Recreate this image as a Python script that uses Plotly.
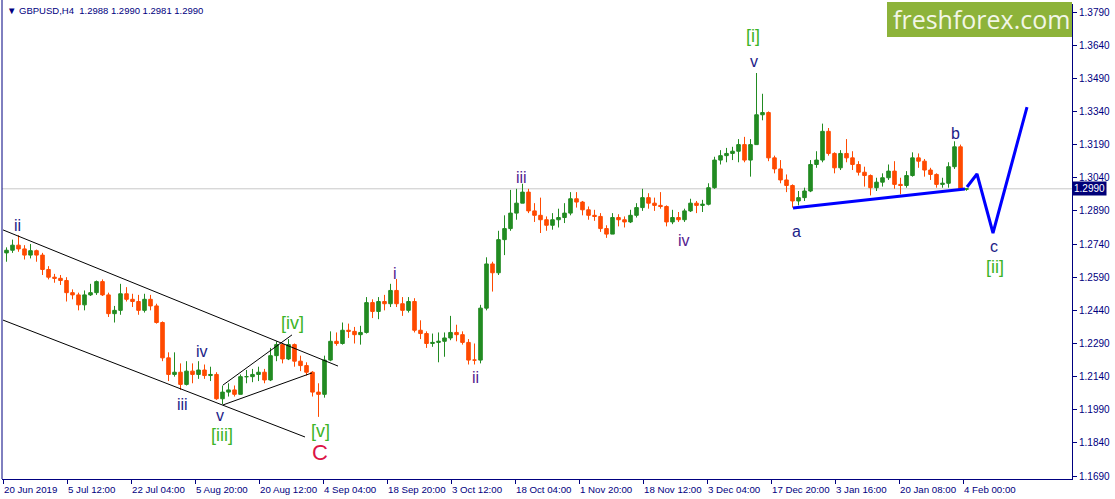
import plotly.graph_objects as go
import pandas as pd

# ---------------- data (daily OHLC) ----------------
days = [d for d in pd.bdate_range("2019-06-21", "2020-02-04")
        if d.strftime("%m-%d") not in ("12-25", "01-01")]

opens = [1.2700,1.2712,1.2735,1.2718,1.2690,1.2710,1.2690,1.2625,1.2590,1.2585,
         1.2575,1.2520,1.2510,1.2465,1.2510,1.2520,1.2570,1.2510,1.2425,1.2440,
         1.2515,1.2490,1.2480,1.2440,1.2490,1.2460,1.2385,1.2225,1.2150,1.2160,
         1.2105,1.2165,1.2150,1.2170,1.2145,1.2150,1.2040,1.2070,1.2080,1.2060,
         1.2140,1.2140,1.2150,1.2160,1.2125,1.2235,1.2285,1.2220,1.2285,1.2210,
         1.2190,1.2160,1.2070,1.2060,1.2215,1.2300,1.2290,1.2350,1.2345,1.2330,
         1.2340,1.2475,1.2435,1.2480,1.2470,1.2530,1.2470,1.2440,1.2480,1.2350,
         1.2335,1.2290,1.2295,1.2300,1.2315,1.2340,1.2330,1.2295,1.2215,1.2215,
         1.2450,1.2650,1.2610,1.2760,1.2810,1.2880,1.2925,1.2975,1.2890,1.2870,
         1.2850,1.2825,1.2850,1.2860,1.2880,1.2945,1.2930,1.2895,1.2870,1.2865,
         1.2810,1.2785,1.2860,1.2850,1.2840,1.2870,1.2905,1.2950,1.2925,1.2915,
         1.2910,1.2840,1.2860,1.2850,1.2890,1.2925,1.2915,1.2920,1.2995,1.3120,
         1.3140,1.3150,1.3160,1.3190,1.3120,1.3190,1.3325,1.3335,1.3130,1.3080,
         1.3030,1.3005,1.2935,1.2950,1.2980,1.3100,1.3120,1.3250,1.3150,1.3085,
         1.3150,1.3130,1.3100,1.3065,1.3050,1.2995,1.3020,1.3040,1.3070,1.3010,
         1.3005,1.3050,1.3130,1.3115,1.3075,1.3055,1.3010,1.3015,1.3090,1.3180,
         1.2988]
highs = [1.2725,1.2760,1.2780,1.2735,1.2740,1.2715,1.2700,1.2640,1.2605,1.2600,
         1.2590,1.2535,1.2520,1.2530,1.2560,1.2575,1.2580,1.2520,1.2460,1.2560,
         1.2545,1.2515,1.2510,1.2515,1.2510,1.2470,1.2390,1.2250,1.2250,1.2200,
         1.2210,1.2200,1.2210,1.2195,1.2185,1.2160,1.2100,1.2110,1.2100,1.2150,
         1.2170,1.2175,1.2185,1.2175,1.2270,1.2300,1.2290,1.2310,1.2290,1.2235,
         1.2205,1.2165,1.2110,1.2235,1.2345,1.2340,1.2385,1.2380,1.2365,1.2370,
         1.2500,1.2490,1.2500,1.2510,1.2560,1.2582,1.2500,1.2500,1.2495,1.2395,
         1.2345,1.2335,1.2340,1.2340,1.2415,1.2375,1.2345,1.2310,1.2290,1.2465,
         1.2680,1.2660,1.2800,1.2870,1.2985,1.2990,1.3013,1.2990,1.2925,1.2950,
         1.2865,1.2880,1.2900,1.2925,1.2975,1.2975,1.2935,1.2910,1.2895,1.2880,
         1.2825,1.2880,1.2875,1.2865,1.2895,1.2925,1.2990,1.2970,1.2950,1.2975,
         1.2915,1.2895,1.2885,1.2900,1.2945,1.2935,1.2940,1.3015,1.3135,1.3165,
         1.3175,1.3180,1.3215,1.3225,1.3215,1.3514,1.3420,1.3340,1.3140,1.3120,
         1.3055,1.3010,1.2980,1.2995,1.3120,1.3160,1.3285,1.3265,1.3155,1.3165,
         1.3215,1.3160,1.3115,1.3090,1.3055,1.3040,1.3060,1.3100,1.3115,1.3040,
         1.3070,1.3155,1.3150,1.3125,1.3085,1.3060,1.3040,1.3110,1.3205,1.3190,
         1.2990]
lows = [1.2660,1.2700,1.2705,1.2670,1.2675,1.2660,1.2600,1.2580,1.2565,1.2555,
        1.2480,1.2490,1.2440,1.2440,1.2505,1.2510,1.2505,1.2410,1.2385,1.2420,
        1.2480,1.2455,1.2420,1.2430,1.2440,1.2380,1.2210,1.2120,1.2140,1.2080,
        1.2100,1.2110,1.2130,1.2130,1.2120,1.2035,1.2015,1.2050,1.2050,1.2060,
        1.2110,1.2115,1.2120,1.2110,1.2120,1.2210,1.2200,1.2215,1.2185,1.2165,
        1.2145,1.2050,1.1958,1.2045,1.2210,1.2280,1.2285,1.2315,1.2290,1.2285,
        1.2335,1.2405,1.2400,1.2440,1.2455,1.2455,1.2415,1.2430,1.2340,1.2310,
        1.2270,1.2275,1.2205,1.2230,1.2305,1.2300,1.2285,1.2195,1.2195,1.2200,
        1.2440,1.2525,1.2600,1.2690,1.2800,1.2850,1.2925,1.2880,1.2840,1.2790,
        1.2800,1.2805,1.2815,1.2835,1.2870,1.2905,1.2870,1.2850,1.2845,1.2795,
        1.2768,1.2785,1.2820,1.2815,1.2835,1.2860,1.2890,1.2900,1.2890,1.2900,
        1.2820,1.2830,1.2840,1.2840,1.2885,1.2880,1.2885,1.2915,1.2990,1.3100,
        1.3110,1.3120,1.3110,1.3110,1.3045,1.3190,1.3300,1.3115,1.3060,1.3015,
        1.2975,1.2905,1.2915,1.2935,1.2975,1.3085,1.3110,1.3140,1.3060,1.3075,
        1.3110,1.3075,1.3050,1.3000,1.2960,1.2980,1.3000,1.3030,1.2990,1.2965,
        1.2995,1.3045,1.3085,1.3045,1.3030,1.2995,1.2995,1.2995,1.3080,1.2980,
        1.2981]
closes = [1.2712,1.2735,1.2718,1.2690,1.2710,1.2690,1.2625,1.2590,1.2585,1.2575,
          1.2520,1.2510,1.2465,1.2510,1.2520,1.2570,1.2510,1.2425,1.2440,1.2515,
          1.2490,1.2480,1.2440,1.2490,1.2460,1.2385,1.2225,1.2150,1.2160,1.2105,
          1.2165,1.2150,1.2170,1.2145,1.2150,1.2040,1.2070,1.2080,1.2060,1.2140,
          1.2140,1.2150,1.2160,1.2125,1.2235,1.2285,1.2220,1.2285,1.2210,1.2190,
          1.2160,1.2070,1.2060,1.2215,1.2300,1.2290,1.2350,1.2345,1.2330,1.2340,
          1.2475,1.2435,1.2480,1.2470,1.2530,1.2470,1.2440,1.2480,1.2350,1.2335,
          1.2290,1.2295,1.2300,1.2315,1.2340,1.2330,1.2295,1.2215,1.2215,1.2450,
          1.2650,1.2610,1.2760,1.2810,1.2880,1.2925,1.2975,1.2890,1.2870,1.2850,
          1.2825,1.2850,1.2860,1.2880,1.2945,1.2930,1.2895,1.2870,1.2865,1.2810,
          1.2785,1.2860,1.2850,1.2840,1.2870,1.2905,1.2950,1.2925,1.2915,1.2910,
          1.2840,1.2860,1.2850,1.2890,1.2925,1.2915,1.2920,1.2995,1.3120,1.3140,
          1.3150,1.3160,1.3190,1.3120,1.3190,1.3325,1.3335,1.3130,1.3080,1.3030,
          1.3005,1.2935,1.2950,1.2980,1.3100,1.3120,1.3250,1.3150,1.3085,1.3150,
          1.3130,1.3100,1.3065,1.3050,1.2995,1.3020,1.3040,1.3070,1.3010,1.3005,
          1.3050,1.3130,1.3115,1.3075,1.3055,1.3010,1.3015,1.3090,1.3180,1.2988,
          1.2990]

# H4 bars per trading day (x axis is counted in H4 bars, like MT4)
BARS_PER_DAY = 6
bar_pos = [BARS_PER_DAY * i + 3.5 for i in range(len(days))]

time_labels = ["20 Jun 2019", "5 Jul 12:00", "22 Jul 04:00", "5 Aug 20:00",
               "20 Aug 12:00", "4 Sep 04:00", "18 Sep 20:00", "3 Oct 12:00",
               "18 Oct 04:00", "1 Nov 20:00", "18 Nov 12:00", "3 Dec 04:00",
               "17 Dec 20:00", "3 Jan 16:00", "20 Jan 08:00", "4 Feb 00:00"]
LABEL_STEP = 64  # bars between time labels
price_ticks = [1.1690 + 0.015 * k for k in range(15)]
last_price = 1.2990

# wave labels: (text, bar, price, colour-key, size)
wave_labels = [
    ("ii", 14, 1.2822, "navy", 16), ("iii", 179, 1.2012, "navy", 16),
    ("iv", 199, 1.2252, "navy", 16), ("v", 217, 1.1962, "navy", 16),
    ("[iii]", 219, 1.1876, "green", 18), ("[iv]", 289, 1.2383, "green", 18),
    ("[v]", 317, 1.1894, "green", 18), ("C", 317, 1.1799, "red", 22),
    ("i", 392, 1.2605, "purple", 16), ("ii", 472, 1.2138, "purple", 16),
    ("iii", 518, 1.3043, "purple", 16), ("iv", 681, 1.2754, "purple", 16),
    ("[i]", 750, 1.3681, "green", 18), ("v", 751, 1.3568, "navy", 16),
    ("a", 793, 1.2799, "navy", 16), ("b", 952, 1.3238, "navy", 16),
    ("c", 991, 1.2727, "navy", 16), ("[ii]", 992, 1.2636, "green", 18),
]
label_colors = {"navy": "#1c2288", "purple": "#55208f", "green": "#3cb428", "red": "#dc1446"}

# drawn analysis lines (bar, price)
channel_upper = ([0, 335], [1.2804, 1.2188])
channel_lower = ([0, 302], [1.2396, 1.1867])
wedge_upper = ([220, 289], [1.2102, 1.2329])
wedge_lower = ([220, 309], [1.2012, 1.2157])
base_line = ([790, 962], [1.2903, 1.2989])
forecast = ([964, 974, 990, 1024], [1.2998, 1.3057, 1.2790, 1.3360])

# ---------------- figure ----------------
NAVY = "#000080"
FONT = "Liberation Sans"
fig = go.Figure()

fig.add_trace(go.Candlestick(
    x=bar_pos, open=opens, high=highs, low=lows, close=closes,
    increasing=dict(line=dict(color="#228b22", width=1), fillcolor="#228b22"),
    decreasing=dict(line=dict(color="#ff4a00", width=1), fillcolor="#ff4a00"),
    whiskerwidth=0, hoverinfo="skip"))

for xs, ys in (channel_upper, channel_lower, wedge_upper, wedge_lower):
    fig.add_trace(go.Scatter(x=xs, y=ys, mode="lines",
                             line=dict(color="black", width=1), hoverinfo="skip"))
for xs, ys in (base_line, forecast):
    fig.add_trace(go.Scatter(x=xs, y=ys, mode="lines",
                             line=dict(color="#0000ff", width=3), hoverinfo="skip"))

# current price line
fig.add_shape(type="line", xref="paper", x0=0, x1=1, yref="y", y0=last_price, y1=last_price,
              line=dict(color="#c8c8c8", width=1), layer="below")
# left frame line
fig.add_shape(type="line", xref="paper", x0=0, x1=0, yref="paper", y0=0, y1=1.02,
              line=dict(color=NAVY, width=1))

for txt, bx, py, ck, sz in wave_labels:
    fig.add_annotation(x=bx, y=py, text=txt, showarrow=False, xanchor="center", yanchor="middle",
                       font=dict(family=FONT, size=sz, color=label_colors[ck]))

for k, lab in enumerate(time_labels):
    fig.add_annotation(x=k * LABEL_STEP, y=0, yref="paper", yanchor="top", xanchor="left",
                       text=lab, showarrow=False, yshift=-3, xshift=-1,
                       font=dict(family=FONT, size=9.7, color=NAVY))

# last price tag
fig.add_annotation(xref="paper", x=1, y=last_price, text=f"{last_price:.4f}", showarrow=False,
                   xanchor="left", yanchor="middle", xshift=0, bgcolor="#000078",
                   font=dict(family=FONT, size=10, color="white"), borderpad=1)

# header
fig.add_annotation(xref="paper", yref="paper", x=0, y=1, xshift=3, yshift=-6,
                   xanchor="left", yanchor="middle", showarrow=False,
                   text="\u25bc GBPUSD,H4\u00a0\u00a01.2988 1.2990 1.2981 1.2990",
                   font=dict(family=FONT, size=9.5, color=NAVY))

# logo
fig.add_shape(type="rect", xref="paper", yref="paper", x0=0.8271, x1=1.0, y0=0.9305, y1=1.0042,
              fillcolor="#8db33a", line=dict(width=0), layer="above")
fig.add_annotation(xref="paper", yref="paper", x=0.9150, y=0.9684, text="freshforex.com",
                   showarrow=False, xanchor="center", yanchor="middle",
                   font=dict(family="Open Sans", size=25, color="#f2f6e6"))

fig.update_layout(
    width=1115, height=499, margin=dict(l=2, r=43, t=4, b=20),
    plot_bgcolor="white", paper_bgcolor="white", showlegend=False, boxgap=0.15,
    xaxis=dict(range=[-1, 1069], rangeslider=dict(visible=False), showgrid=False, zeroline=False,
               tickmode="array", tickvals=[k * LABEL_STEP for k in range(len(time_labels))],
               showticklabels=False, ticks="outside", ticklen=4, tickcolor=NAVY,
               showline=True, linecolor=NAVY, linewidth=1),
    yaxis=dict(range=[1.16769, 1.38262], side="right", showgrid=False, zeroline=False,
               tickmode="array", tickvals=price_ticks, ticktext=[f"{v:.4f}" for v in price_ticks],
               ticks="outside", ticklen=4, tickcolor=NAVY, showline=True, linecolor=NAVY,
               linewidth=1, tickfont=dict(family=FONT, size=10, color=NAVY)),
)

fig.write_html("out.html", config={"displayModeBar": False},
               post_script="document.body.style.margin='0';document.body.style.overflow='hidden';")
